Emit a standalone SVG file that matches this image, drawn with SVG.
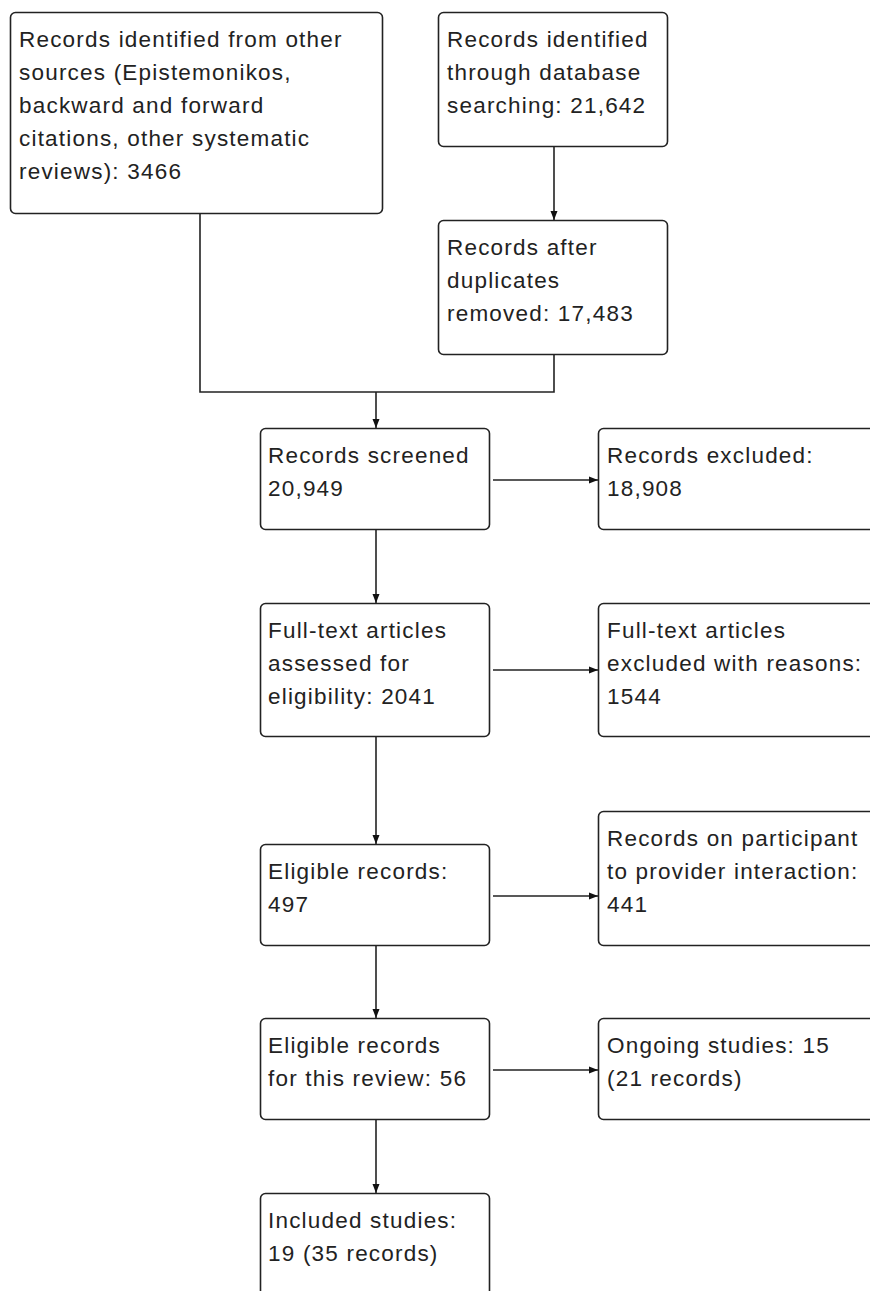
<svg xmlns="http://www.w3.org/2000/svg" width="870" height="1291" viewBox="0 0 870 1291">
<style>
.box{fill:#fff;stroke:#222;stroke-width:1.6}
.t{font-family:"Liberation Sans",Arial,sans-serif;font-size:22.5px;letter-spacing:1.2px;fill:#222}
.c{fill:none;stroke:#222;stroke-width:1.6}
</style>
<defs>
<marker id="ah" markerWidth="10" markerHeight="8" refX="9" refY="4" orient="auto" markerUnits="userSpaceOnUse">
<path d="M0,0.5 L9,4 L0,7.5 Z" fill="#111"/>
</marker>
</defs>
<rect x="0" y="0" width="870" height="1291" fill="#fff"/>
<g id="connectors">
<path class="c" d="M200,214 V392 H554 V355"/>
<path class="c" d="M376,392 V428" marker-end="url(#ah)"/>
<path class="c" d="M554,147 V220" marker-end="url(#ah)"/>
<path class="c" d="M493,480 H598" marker-end="url(#ah)"/>
<path class="c" d="M376,530 V603" marker-end="url(#ah)"/>
<path class="c" d="M493,670 H598" marker-end="url(#ah)"/>
<path class="c" d="M376,737 V844" marker-end="url(#ah)"/>
<path class="c" d="M493,896 H598" marker-end="url(#ah)"/>
<path class="c" d="M376,946 V1018" marker-end="url(#ah)"/>
<path class="c" d="M493,1070 H598" marker-end="url(#ah)"/>
<path class="c" d="M376,1120 V1193" marker-end="url(#ah)"/>
</g>
<g id="n1">
<rect class="box" x="10.5" y="12.5" width="372" height="201" rx="5"/>
<text class="t" x="19" y="47">Records identified from other</text>
<text class="t" x="19" y="80">sources (Epistemonikos,</text>
<text class="t" x="19" y="113">backward and forward</text>
<text class="t" x="19" y="146">citations, other systematic</text>
<text class="t" x="19" y="179">reviews): 3466</text>
</g>
<g id="n2">
<rect class="box" x="438.5" y="12.5" width="229" height="134" rx="5"/>
<text class="t" x="447" y="47">Records identified</text>
<text class="t" x="447" y="80">through database</text>
<text class="t" x="447" y="113">searching: 21,642</text>
</g>
<g id="n3">
<rect class="box" x="438.5" y="220.5" width="229" height="134" rx="5"/>
<text class="t" x="447" y="255">Records after</text>
<text class="t" x="447" y="288">duplicates</text>
<text class="t" x="447" y="321">removed: 17,483</text>
</g>
<g id="n4">
<rect class="box" x="260.5" y="428.5" width="229" height="101" rx="5"/>
<text class="t" x="268" y="463">Records screened</text>
<text class="t" x="268" y="496">20,949</text>
</g>
<g id="n5">
<rect class="box" x="598.5" y="428.5" width="290" height="101" rx="5"/>
<text class="t" x="607" y="463">Records excluded:</text>
<text class="t" x="607" y="496">18,908</text>
</g>
<g id="n6">
<rect class="box" x="260.5" y="603.5" width="229" height="133" rx="5"/>
<text class="t" x="268" y="638">Full-text articles</text>
<text class="t" x="268" y="671">assessed for</text>
<text class="t" x="268" y="704">eligibility: 2041</text>
</g>
<g id="n7">
<rect class="box" x="598.5" y="603.5" width="290" height="133" rx="5"/>
<text class="t" x="607" y="638">Full-text articles</text>
<text class="t" x="607" y="671">excluded with reasons:</text>
<text class="t" x="607" y="704">1544</text>
</g>
<g id="n8">
<rect class="box" x="260.5" y="844.5" width="229" height="101" rx="5"/>
<text class="t" x="268" y="879">Eligible records:</text>
<text class="t" x="268" y="912">497</text>
</g>
<g id="n9">
<rect class="box" x="598.5" y="811.5" width="290" height="134" rx="5"/>
<text class="t" x="607" y="846">Records on participant</text>
<text class="t" x="607" y="879">to provider interaction:</text>
<text class="t" x="607" y="912">441</text>
</g>
<g id="n10">
<rect class="box" x="260.5" y="1018.5" width="229" height="101" rx="5"/>
<text class="t" x="268" y="1053">Eligible records</text>
<text class="t" x="268" y="1086">for this review: 56</text>
</g>
<g id="n11">
<rect class="box" x="598.5" y="1018.5" width="290" height="101" rx="5"/>
<text class="t" x="607" y="1053">Ongoing studies: 15</text>
<text class="t" x="607" y="1086">(21 records)</text>
</g>
<g id="n12">
<rect class="box" x="260.5" y="1193.5" width="229" height="120" rx="5"/>
<text class="t" x="268" y="1228">Included studies:</text>
<text class="t" x="268" y="1261">19 (35 records)</text>
</g>
</svg>
